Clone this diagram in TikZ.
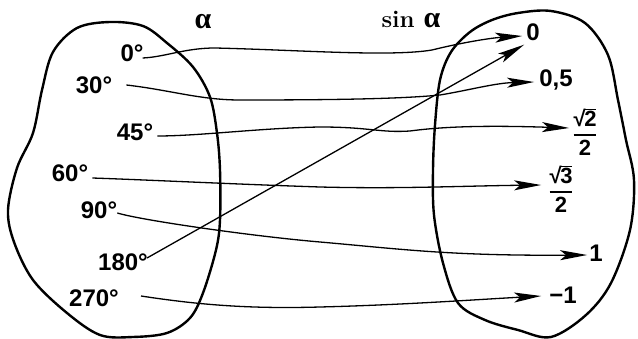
\documentclass[tikz,border=0pt]{standalone}
\usepackage{fontspec}
\usepackage{amsmath}
\usetikzlibrary{arrows.meta}
\newfontfamily\labfont{Liberation Sans}
\newfontfamily\greekfont{Liberation Serif}
\newcommand\myroot[1]{√\kern-0.06em\vbox{\hrule height 1.2pt\kern 0.9pt\hbox{#1}}}
\newcommand\myfrac[1]{$\genfrac{}{}{1.4pt}{0}{\text{\myroot{#1}}}{\text{2}}$}
\newcommand\upalpha{{\greekfont\bfseries\fontsize{30}{32}\selectfont α}}
\begin{document}
\begin{tikzpicture}[x=1pt,y=-1pt,
  blob/.style={line width=2.4pt, line join=round},
  arr/.style={line width=1.3pt, -{Stealth[length=27pt,width=10pt,inset=6pt]}},
  lab/.style={font=\labfont\bfseries\fontsize{24}{26}\selectfont, inner sep=2pt},
  fraclab/.style={font=\labfont\bfseries\fontsize{22}{24}\selectfont, inner sep=2pt},
  head/.style={font=\bfseries\fontsize{24}{27}\selectfont, inner sep=1pt}]
\useasboundingbox (0,0) rectangle (638,339);
% sets
\draw[blob] plot[smooth cycle, tension=0.55] coordinates {
 (110,22) (143,26) (167,43) (193,67) (210,97) (217,133) (220,170) (220,220)
 (216,250) (203,293) (190,318) (167,333) (133,337) (100,335) (67,313) (33,280)
 (14,242) (8,210) (17,168) (33,133) (42,90) (53,52) (77,28)};
\draw[blob] plot[smooth cycle, tension=0.55] coordinates {
 (518,13) (551,11) (585,23) (608,55) (618,100) (626,140) (634,180) (630,230)
 (611,283) (586,315) (551,337) (518,330) (485,320) (458,303) (443,263) (434,215)
 (433,170) (435,125) (440,80) (451,52) (470,32) (492,20)};
% headings
\node[head] (ha) at (203,22) {\upalpha};
\node[head] (hs) at (411,19) {sin \upalpha};
% left labels
\node[lab] (l0) at (132,53) {0°};
\node[lab] (l30) at (94,85) {30°};
\node[lab] (l45) at (135,132) {45°};
\node[lab] (l60) at (70,173) {60°};
\node[lab] (l90) at (99,210) {90°};
\node[lab] (l180) at (123,262) {180°};
\node[lab] (l270) at (94,298) {270°};
% right labels
\node[lab] (r0) at (533,32) {0};
\node[lab] (r05) at (556,80) {0,5};
\node[fraclab] (rs2) at (585,132) {\myfrac{2}};
\node[fraclab] (rs3) at (561,189) {\myfrac{3}};
\node[lab] (r1) at (596,253) {1};
\node[lab] (rm1) at (563,295) {−1};
% connectors
\draw[arr] ([shift={(-3,5)}]l0.east) .. controls (165,57) and (185,48) .. (215,48)
  .. controls (300,50) and (390,57) .. (432,50)
  .. controls (460,43) and (490,38) .. ([shift={(-2,4)}]r0.west);
\draw[arr] ([xshift=12pt]l30.east) .. controls (170,90) and (200,100) .. (240,100)
  .. controls (330,100) and (400,99) .. (440,95)
  .. controls (470,90) and (495,83) .. ([shift={(-3,2)}]r05.west);
\draw[arr] ([shift={(2,4)}]l45.east) .. controls (200,136) and (260,128) .. (320,127)
  .. controls (370,127) and (380,133) .. (410,131)
  .. controls (440,127) and (480,125) .. ([shift={(-1,-4)}]rs2.west);
\draw[arr] ([shift={(2,5)}]l60.east) .. controls (150,180) and (230,184) .. (320,187)
  .. controls (400,189) and (460,186) .. ([shift={(-5,-4)}]rs3.west);
\draw[arr] ([shift={(-2,3)}]l90.east) .. controls (140,220) and (250,236) .. (320,242)
  .. controls (400,249) and (450,256) .. ([shift={(0,2)}]r1.west);
\draw[arr] ([shift={(-3,-4)}]l180.east) -- ([shift={(0,2)}]r0.south west);
\draw[arr] ([xshift=20pt,yshift=2pt]l270.east) .. controls (200,305) and (250,309) .. (320,307)
  .. controls (400,305) and (470,300) .. ([shift={(-6,1)}]rm1.west);
\end{tikzpicture}
\end{document}
